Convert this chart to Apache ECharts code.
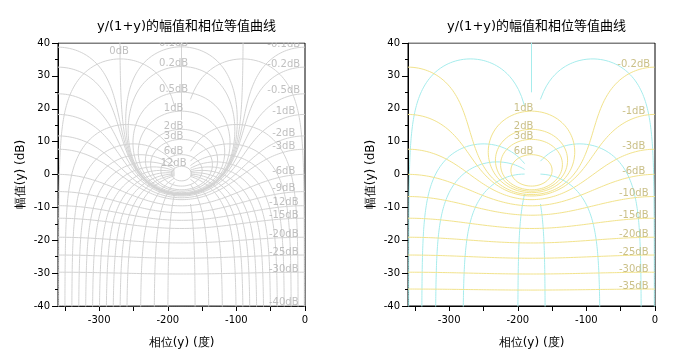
<!DOCTYPE html>
<html><head><meta charset="utf-8">
<script src="https://cdn.jsdelivr.net/npm/echarts@6/dist/echarts.min.js"></script>
<style>html,body{margin:0;padding:0;background:#fff}#c{width:700px;height:350px}</style>
</head><body><div id="c"></div>
<script>
// ---------- data ----------
const titleText = 'y/(1+y)的幅值和相位等值曲线';
const xName = '相位(y) (度)';
const yName = '幅值(y) (dB)';
const xTickValues = [-350, -300, -250, -200, -150, -100, -50, 0];
const xTickLabels = [-300, -200, -100, 0];
const yTickLabels = [-40, -30, -20, -10, 0, 10, 20, 30, 40];
// closed-loop iso-gain levels (dB)
const leftModules = [-40, -30, -25, -20, -15, -12, -9, -6, -3, -2, -1, -0.5, -0.2, -0.1, 0, 0.1, 0.2, 0.5, 1, 2, 3, 6, 12];
const rightModules = [-35, -30, -25, -20, -15, -10, -6, -3, -1, -0.2, 1, 2, 3, 6];
// closed-loop iso-phase levels (degrees)
const leftArgs = [-1, -10, -20, -30, -40, -50, -60, -70, -80, -90, -100, -120, -140, -160, -200, -220, -240, -260, -270, -280, -290, -300, -310, -320, -330, -340, -350, -359];
const rightArgs = [-1, -20, -80, -160, -200, -280, -320, -340, -359];
// upper part of the 0 deg iso-phase (vertical at -180), lowest gain drawn (dB)
const leftCenterLineDb = 16.6;
const rightCenterLineDb = 25;
const zeroLabelDb = 36.6;

// ---------- geometry helpers (closed loop T = y/(1+y)) ----------
const D = Math.PI / 180;
function isoGain(mdb) {
  const M = Math.pow(10, mdb / 20), N = 1600, pts = [];
  for (let i = 0; i <= N; i++) {
    if (mdb === 0 && (i === 0 || i === N)) continue;
    const psi = -180 - 180 * Math.cos(Math.PI * i / N);
    const tr = M * Math.cos(psi * D), ti = M * Math.sin(psi * D);
    const dr = 1 - tr, di = -ti;
    const dd = dr * dr + di * di;
    const yr = (tr * dr + ti * di) / dd, yi = (ti * dr - tr * di) / dd;
    const g = 20 * Math.log10(Math.hypot(yr, yi));
    let phi;
    if (M <= 1) phi = psi - Math.atan2(di, dr) / D;
    else { phi = Math.atan2(yi, yr) / D; if (phi > 0) phi -= 360; }
    pts.push([phi, g]);
  }
  return pts;
}
function isoPhase(psi) {
  const pts = [], N = 500;
  const s = Math.sin(psi * D);
  const right = psi > -180;
  const end = right ? -167 : -190;
  const span = Math.abs(end - psi);
  if ((right && psi <= end) || (!right && psi >= end)) return pts;
  for (let i = 0; i <= N; i++) {
    const d = span * Math.pow(10, -6 * (1 - i / N));
    const phi = right ? psi - d : psi + d;
    const g = Math.sin((phi - psi) * D) / s;
    if (g <= 0) continue;
    pts.push([phi, 20 * Math.log10(g)]);
  }
  return pts;
}
function maxGain(mdb) {
  const M = Math.pow(10, mdb / 20);
  return 20 * Math.log10(M / Math.abs(1 - M));
}
function labelsFor(mods) {
  return mods.map(m => {
    if (m === 0) return [-271, zeroLabelDb, m + 'dB'];
    return [m > 0 ? -191.5 : -31, maxGain(m), m + 'dB'];
  });
}

// ---------- chart ----------
const chart = echarts.init(document.getElementById('c'), null, { renderer: 'canvas' });
const font = 'DejaVu Sans';
const grids = [
  { left: 58, right: 395, top: 43, bottom: 44 },
  { left: 408, right: 45, top: 43, bottom: 44 }
];
function xAx(i) {
  return {
    gridIndex: i, type: 'value', min: -360, max: 0,
    name: xName, nameLocation: 'middle', nameGap: 31,
    nameTextStyle: { fontFamily: font, fontSize: 12, color: '#000' },
    axisLine: { onZero: false, lineStyle: { color: '#000', width: 1 } },
    axisTick: { show: true, length: 5, customValues: xTickValues, lineStyle: { color: '#000' } },
    axisLabel: { customValues: xTickLabels, fontFamily: font, fontSize: 10, color: '#000', margin: 9 },
    splitLine: { show: false }
  };
}
function yAx(i) {
  return {
    gridIndex: i, type: 'value', min: -40, max: 40, interval: 10,
    name: yName, nameLocation: 'middle', nameGap: 31, nameRotate: 90,
    nameTextStyle: { fontFamily: font, fontSize: 12, color: '#000' },
    axisLine: { onZero: false, lineStyle: { color: '#000', width: 1 } },
    axisTick: { show: true, length: 6, lineStyle: { color: '#000' } },
    minorTick: { show: true, splitNumber: 2, length: 3, lineStyle: { color: '#000' } },
    axisLabel: { customValues: yTickLabels, fontFamily: font, fontSize: 10, color: '#000', margin: 8 },
    splitLine: { show: false }
  };
}
const series = [];
function addPanel(i, mods, args, gainColor, phaseColor, textColor, centerDb) {
  mods.forEach(m => series.push({
    type: 'line', xAxisIndex: i, yAxisIndex: i, data: isoGain(m), showSymbol: false, symbol: 'none',
    lineStyle: { color: gainColor, width: 1 }, clip: true, silent: true, animation: false, z: 3
  }));
  args.forEach(a => series.push({
    type: 'line', xAxisIndex: i, yAxisIndex: i, data: isoPhase(a), showSymbol: false, symbol: 'none',
    lineStyle: { color: phaseColor, width: 1 }, clip: true, silent: true, animation: false, z: 2
  }));
  series.push({
    type: 'line', xAxisIndex: i, yAxisIndex: i, data: [[-180, centerDb], [-180, 200]], showSymbol: false, symbol: 'none',
    lineStyle: { color: phaseColor, width: 1 }, clip: true, silent: true, animation: false, z: 2
  });
  series.push({
    type: 'scatter', xAxisIndex: i, yAxisIndex: i, data: labelsFor(mods), symbolSize: 0, silent: true, animation: false, z: 4,
    label: { show: true, position: 'inside', offset: [0, -3], formatter: p => p.value[2],
      fontFamily: font, fontSize: 10, color: textColor }
  });
}
addPanel(0, leftModules, leftArgs, '#d3d3d3', '#d3d3d3', '#b0b0b0', leftCenterLineDb);
addPanel(1, rightModules, rightArgs, '#f2e38c', '#a6ecec', '#bdb06a', rightCenterLineDb);

chart.setOption({
  animation: false,
  backgroundColor: '#fff',
  title: [0, 1].map(i => ({
    text: titleText, left: i === 0 ? 181.5 : 531.5, top: 15, textAlign: 'center', z: 60,
    textStyle: { fontFamily: font + ', Noto Sans CJK SC', fontSize: 13, fontWeight: 'normal', color: '#000' }
  })),
  grid: grids.map(g => Object.assign({ show: true, borderColor: '#000', borderWidth: 1, backgroundColor: 'transparent',
    containLabel: false, outerBoundsMode: 'none' }, g)),
  xAxis: [xAx(0), xAx(1)],
  yAxis: [yAx(0), yAx(1)],
  graphic: [
    { type: 'rect', shape: { x: 57, y: 0, width: 250, height: 42.5 }, style: { fill: '#fff' }, z: 50, silent: true },
    { type: 'rect', shape: { x: 407, y: 0, width: 250, height: 42.5 }, style: { fill: '#fff' }, z: 50, silent: true }
  ],
  series
});
</script></body></html>
